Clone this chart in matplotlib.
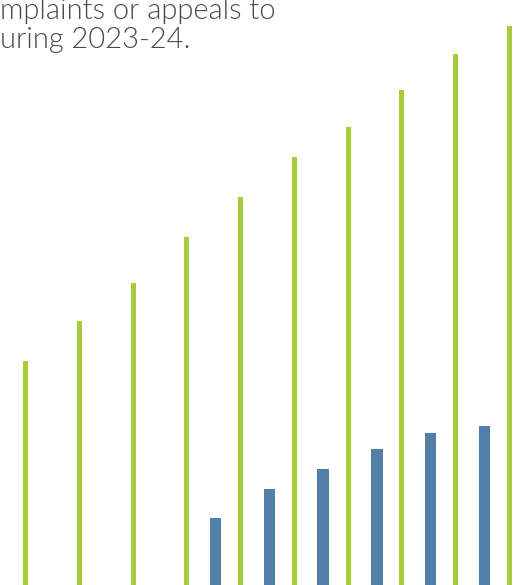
import numpy as np
import matplotlib.pyplot as plt

# groups (axis labels are cropped out of the picture)
groups = list(range(10))
green_vals = [224, 264, 302, 348, 388, 428, 458, 495, 531, 559]
blue_vals = [0, 0, 0, 0, 67, 96, 116, 136, 152, 159]

line1 = "mplaints or appeals to"
line2 = "uring 2023-24."

fig = plt.figure(figsize=(5.26, 5.85), dpi=100)
ax = fig.add_axes([0, 0, 1, 1])

x = np.arange(len(groups))
ax.bar(x, green_vals, width=0.093, color='#a5cd39', align='center')
ax.bar(x - 0.465, blue_vals, width=0.213, color='#527fa7', align='center')

ax.set_xlim(-0.478, 9.31)
ax.set_ylim(0, 585)
ax.axis('off')

fig.text(0.0, 1 - 19.5 / 585, line1, fontsize=21, family=['Lato', 'DejaVu Sans'],
         fontweight=300, color='#4a4a4c', ha='left', va='baseline')
fig.text(0.0, 1 - 48 / 585, line2, fontsize=21, family=['Lato', 'DejaVu Sans'],
         fontweight=300, color='#4a4a4c', ha='left', va='baseline')

fig.savefig('out.png', dpi=100)
